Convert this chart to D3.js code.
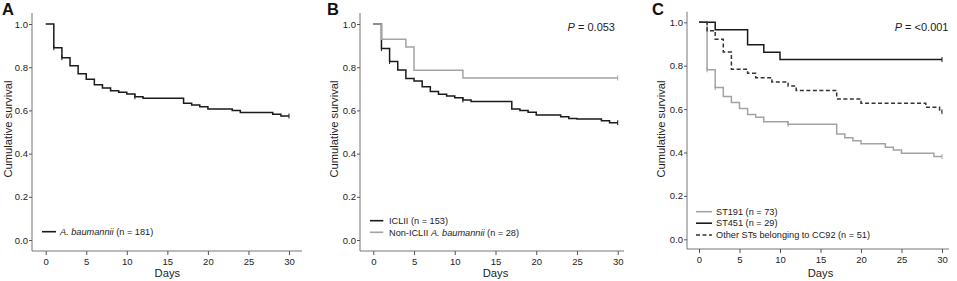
<!DOCTYPE html>
<html>
<head>
<meta charset="utf-8">
<script src="https://cdn.jsdelivr.net/npm/d3@7"></script>
<style>
  body { margin: 0; background: #fff; }
  svg { display: block; font-family: "Liberation Sans", Arial, sans-serif; }
</style>
</head>
<body>
<svg id="chart" width="957" height="281"></svg>
<script>
// ---- data ----
const xTicks = [0, 5, 10, 15, 20, 25, 30];
const yTicks = [0, 0.2, 0.4, 0.6, 0.8, 1.0];

// Panel A: all A. baumannii
const aDays = [0, 1, 2, 3, 4, 5, 6, 7, 8, 9, 10, 11, 12, 17, 18, 19, 20, 23, 24, 28, 29, 30];
const aSurv = [1, 0.89, 0.844, 0.807, 0.77, 0.744, 0.719, 0.704, 0.691, 0.684, 0.676, 0.663, 0.656, 0.633, 0.625, 0.617, 0.606, 0.599, 0.59, 0.582, 0.574, 0.574];
const aCensored = [1, 2, 11, 30];

// Panel B: ICLII vs non-ICLII
const iclDays = [0, 1, 2, 3, 4, 5, 6, 7, 8, 9, 10, 11, 12, 17, 18, 19, 20, 23, 24, 25, 28, 29, 30];
const iclSurv = [1, 0.886, 0.826, 0.787, 0.748, 0.736, 0.71, 0.687, 0.675, 0.667, 0.659, 0.648, 0.641, 0.606, 0.599, 0.591, 0.579, 0.571, 0.563, 0.56, 0.552, 0.543, 0.543];
const iclCensored = [1, 2, 11, 30];
const nonDays = [0, 1, 4, 5, 11, 30];
const nonSurv = [1, 0.929, 0.893, 0.786, 0.75, 0.75];
const nonCensored = [30];

// Panel C: sequence types
const st191Days = [0, 1, 2, 3, 4, 5, 6, 7, 8, 11, 17, 18, 19, 20, 23, 24, 25, 29, 30];
const st191Surv = [1, 0.781, 0.699, 0.658, 0.63, 0.603, 0.575, 0.562, 0.542, 0.53, 0.485, 0.468, 0.454, 0.44, 0.424, 0.411, 0.396, 0.381, 0.381];
const st191Censored = [1, 2, 11, 30];
const st451Days = [0, 2, 6, 8, 10, 30];
const st451Surv = [1, 0.966, 0.897, 0.862, 0.828, 0.828];
const st451Censored = [30];
const otherDays = [0, 1, 2, 3, 4, 6, 7, 9, 11, 12, 17, 20, 28, 29.7, 30];
const otherSurv = [1, 0.961, 0.922, 0.863, 0.784, 0.765, 0.745, 0.725, 0.706, 0.686, 0.647, 0.627, 0.608, 0.588, 0.588];
const otherCensored = [30];

// legend labels, [text, italic]
const aLabel = [['A. baumannii', true], [' (n = 181)', false]];
const iclLabel = [['ICLII (n = 153)', false]];
const nonLabel = [['Non-ICLII ', false], ['A. baumannii', true], [' (n = 28)', false]];
const st191Label = [['ST191 (n = 73)', false]];
const st451Label = [['ST451 (n = 29)', false]];
const otherLabel = [['Other STs belonging to CC92 (n = 51)', false]];

const BLACK = '#1a1a1a', GREY = '#a3a3a3';

const svg = d3.select('#chart');

function drawPanel(cfg) {
  const x = d3.scaleLinear().domain([0, 30]).range([cfg.x0, cfg.x30]);
  const y = d3.scaleLinear().domain([0, 1]).range([cfg.yBot, cfg.yTop]);
  const g = svg.append('g');

  // axis lines (offset SPSS style)
  g.append('line')
    .attr('x1', cfg.axisX).attr('x2', cfg.axisX)
    .attr('y1', cfg.axisTop).attr('y2', cfg.axisY)
    .attr('stroke', '#777').attr('stroke-width', 1);
  g.append('line')
    .attr('x1', cfg.axisX).attr('x2', cfg.xEnd)
    .attr('y1', cfg.axisY).attr('y2', cfg.axisY)
    .attr('stroke', '#777').attr('stroke-width', 1);

  const yAxis = g.append('g')
    .attr('transform', `translate(${cfg.axisX},0)`)
    .call(d3.axisLeft(y).tickValues(yTicks).tickFormat(d3.format('.1f')).tickSize(3).tickSizeOuter(0).tickPadding(1));
  const xAxis = g.append('g')
    .attr('transform', `translate(0,${cfg.axisY})`)
    .call(d3.axisBottom(x).tickValues(xTicks).tickSize(4).tickSizeOuter(0).tickPadding(3));
  [yAxis, xAxis].forEach(a => {
    a.select('.domain').remove();
    a.selectAll('line').attr('stroke', '#555');
    a.selectAll('text').attr('fill', '#222').style('font-size', '9.5px')
      .style('font-family', '"Liberation Sans", Arial, sans-serif');
  });

  // titles
  g.append('text')
    .attr('x', x(15)).attr('y', 276.5)
    .attr('text-anchor', 'middle').attr('fill', '#222')
    .style('font-size', '11.2px').text('Days');
  g.append('text')
    .attr('transform', `translate(${cfg.labelX + 4},129) rotate(-90)`)
    .attr('text-anchor', 'middle').attr('fill', '#222')
    .style('font-size', '11.2px').text('Cumulative survival');
  g.append('text')
    .attr('x', cfg.lx).attr('y', 15)
    .attr('fill', '#111').style('font-size', '16.5px').style('font-weight', 'bold')
    .text(cfg.letter);

  if (cfg.p) {
    const t = g.append('text')
      .attr('x', cfg.px).attr('y', 30.5)
      .attr('text-anchor', 'end').attr('fill', '#222').style('font-size', '11px');
    t.append('tspan').style('font-style', 'italic').text('P');
    t.append('tspan').text(' = ' + cfg.p);
  }

  const line = d3.line()
    .x(d => x(d[0])).y(d => y(d[1]))
    .curve(d3.curveStepAfter);

  cfg.series.forEach((s, i) => {
    const pts = d3.zip(s.days, s.surv);
    g.append('path')
      .datum(pts)
      .attr('fill', 'none')
      .attr('stroke', s.color)
      .attr('stroke-width', 1.5)
      .attr('stroke-dasharray', s.dash || null)
      .attr('d', line);

    // censor ticks
    const survAt = d => {
      const idx = d3.bisectRight(s.days, d) - 1;
      return s.surv[Math.max(0, idx)];
    };
    g.selectAll(null)
      .data(s.censored)
      .join('line')
      .attr('x1', d => x(d)).attr('x2', d => x(d))
      .attr('y1', d => y(survAt(d)) - 2.5).attr('y2', d => y(survAt(d)) + 2.5)
      .attr('stroke', s.color).attr('stroke-width', 1);

    // legend
    const ly = cfg.legendY[i];
    g.append('line')
      .attr('x1', cfg.legendX[0]).attr('x2', cfg.legendX[1])
      .attr('y1', ly).attr('y2', ly)
      .attr('stroke', s.color).attr('stroke-width', 1.6)
      .attr('stroke-dasharray', s.dash || null);
    const lt = g.append('text')
      .attr('x', cfg.legendX[2]).attr('y', ly)
      .attr('dy', '0.35em').attr('fill', '#222').style('font-size', '9.2px');
    s.label.forEach(([txt, it]) => {
      lt.append('tspan').style('font-style', it ? 'italic' : 'normal').text(txt);
    });
  });
}

drawPanel({
  letter: 'A', lx: 2, x0: 45.7, x30: 289, yTop: 24, yBot: 240,
  axisX: 32, axisY: 251, axisTop: 13, xEnd: 302, labelX: 7.5,
  legendY: [231.7], legendX: [42, 56, 60],
  series: [
    { days: aDays, surv: aSurv, censored: aCensored, color: BLACK, label: aLabel }
  ]
});

drawPanel({
  letter: 'B', lx: 327, x0: 373.3, x30: 617.7, yTop: 24, yBot: 240,
  axisX: 360, axisY: 251, axisTop: 13, xEnd: 624, labelX: 334,
  p: '0.053', px: 615,
  legendY: [220.7, 232.3], legendX: [370, 383.3, 389],
  series: [
    { days: iclDays, surv: iclSurv, censored: iclCensored, color: BLACK, label: iclLabel },
    { days: nonDays, surv: nonSurv, censored: nonCensored, color: GREY, label: nonLabel }
  ]
});

drawPanel({
  letter: 'C', lx: 652, x0: 699, x30: 942, yTop: 22.3, yBot: 239.3,
  axisX: 687, axisY: 249, axisTop: 11.7, xEnd: 949, labelX: 660.5,
  p: '<0.001', px: 948.5,
  legendY: [211.7, 223.2, 235], legendX: [696, 712, 716],
  series: [
    { days: st191Days, surv: st191Surv, censored: st191Censored, color: GREY, label: st191Label },
    { days: st451Days, surv: st451Surv, censored: st451Censored, color: BLACK, label: st451Label },
    { days: otherDays, surv: otherSurv, censored: otherCensored, color: '#333', dash: '4,2.5', label: otherLabel }
  ]
});
</script>
</body>
</html>
